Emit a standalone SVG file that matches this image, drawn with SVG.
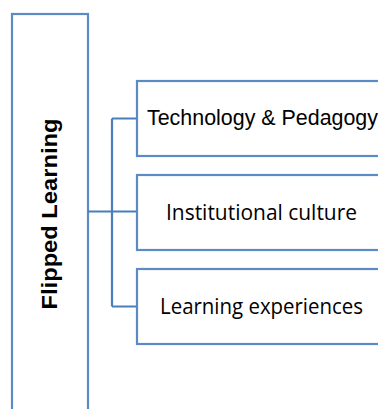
<svg xmlns="http://www.w3.org/2000/svg" width="378" height="409" viewBox="0 0 378 409">
<style>
.box{fill:#fff;stroke:#5A8BC5;stroke-width:2.2}
.conn{fill:none;stroke:#4A7EBB;stroke-width:2.2}
.arial{font-family:"Liberation Sans",Arial,sans-serif;fill:#000}
.cal{font-family:"Open Sans","Noto Sans",sans-serif;fill:#000}
</style>
<rect width="378" height="409" fill="#fff"/>
<g id="flipped-learning">
<rect class="box" x="12" y="14" width="76" height="420"/>
<text class="arial" font-weight="bold" font-size="22.5" transform="translate(56.5,309.5) rotate(-90)" textLength="191" lengthAdjust="spacingAndGlyphs">Flipped Learning</text>
</g>
<g id="connectors">
<path class="conn" d="M88,211.5 H137 M112,118.5 V306.5 M112,118.5 H137 M112,306.5 H137"/>
</g>
<g id="technology-pedagogy">
<rect class="box" x="137" y="81" width="260" height="75"/>
<text class="arial" font-size="21.2" x="147" y="125" textLength="231" lengthAdjust="spacingAndGlyphs">Technology &amp; Pedagogy</text>
</g>
<g id="institutional-culture">
<rect class="box" x="137" y="175" width="260" height="75"/>
<text class="cal" font-size="21.5" x="166" y="220" textLength="191" lengthAdjust="spacingAndGlyphs">Institutional culture</text>
</g>
<g id="learning-experiences">
<rect class="box" x="137" y="269" width="260" height="75"/>
<text class="cal" font-size="21.5" x="160" y="314" textLength="203" lengthAdjust="spacingAndGlyphs">Learning experiences</text>
</g>
</svg>
